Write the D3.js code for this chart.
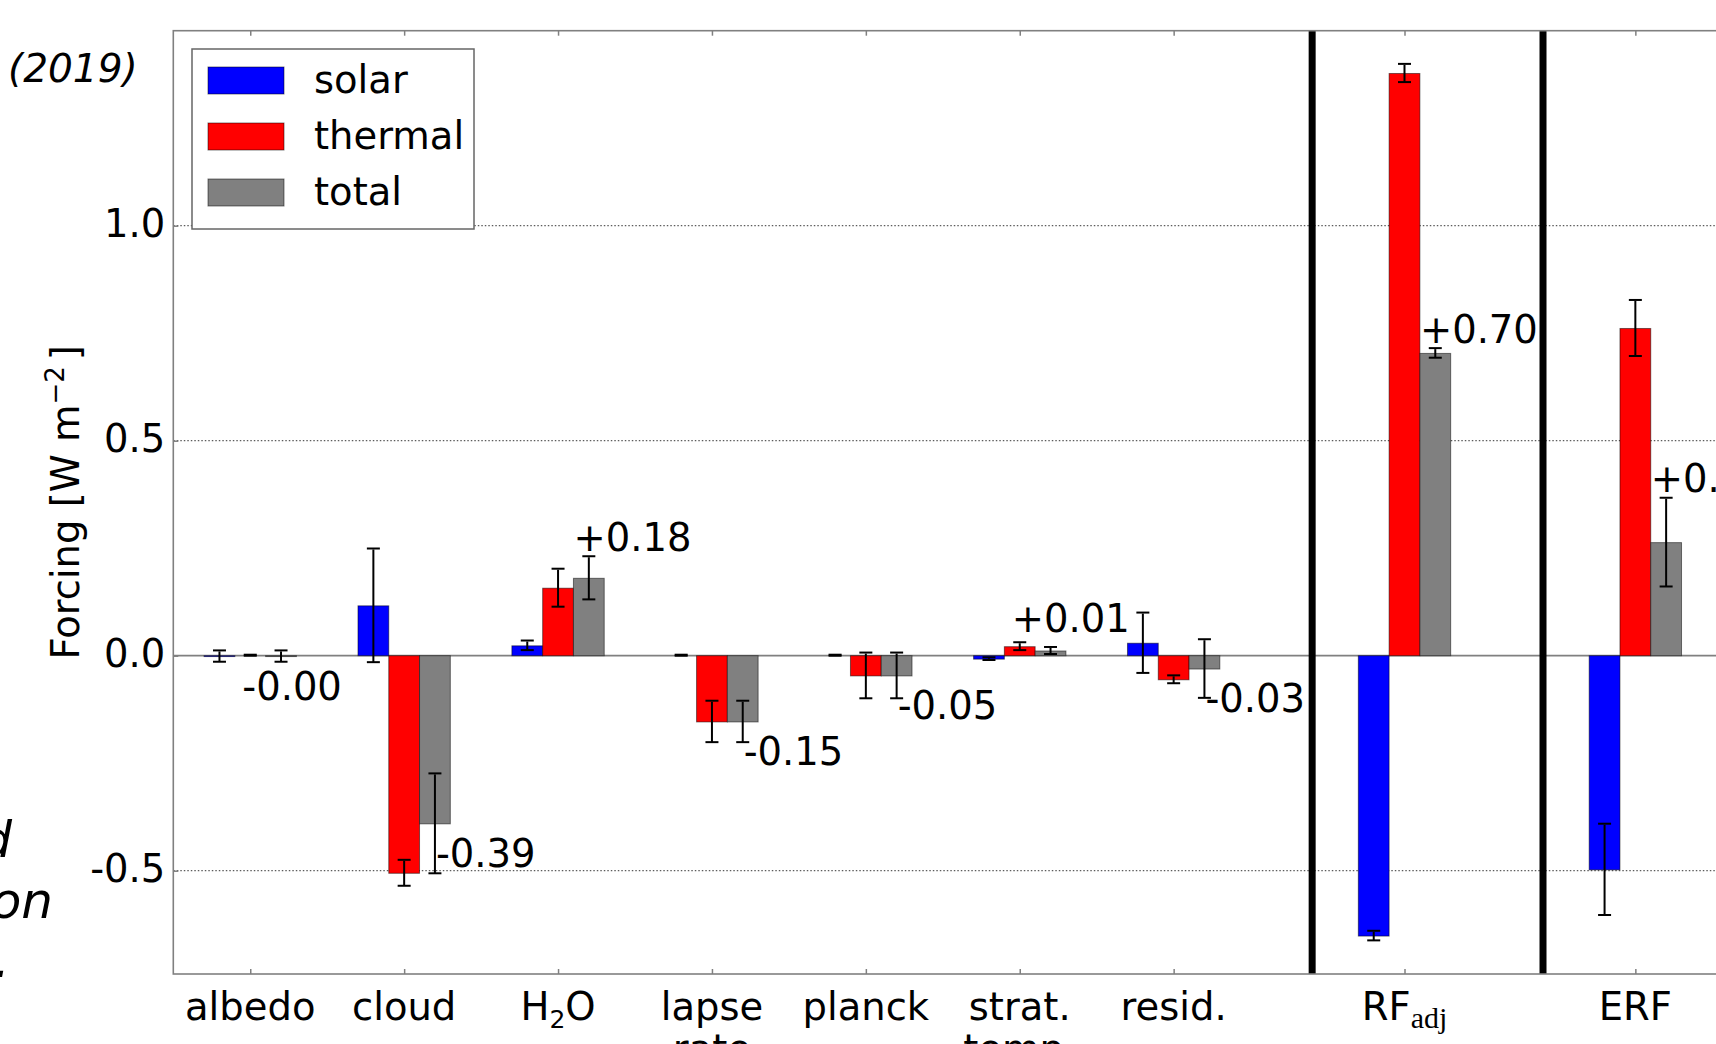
<!DOCTYPE html>
<html>
<head>
<meta charset="utf-8">
<script src="https://cdn.jsdelivr.net/npm/d3@7"></script>
<style>
  html, body { margin: 0; padding: 0; background: #ffffff; }
  svg { display: block; }
  text { font-family: "DejaVu Sans", sans-serif; fill: #000; }
</style>
</head>
<body>
<div id="graph"></div>
<script>
// categories along the x axis (second line of a label after "\n")
const categories = ["albedo", "cloud", "H2O", "lapse\nrate", "planck", "strat.\ntemp.", "resid.", "RF_adj", "ERF"];
const seriesNames = ["solar", "thermal", "total"];

// forcing values in W m-2
const solar      = [-0.002, 0.116, 0.023, 0.000, 0.000, -0.008, 0.029, -0.652, -0.498];
const solarErr   = [0.012, 0.131, 0.010, 0.000, 0.000, 0.002, 0.069, 0.010, 0.105];
const thermal    = [0.000, -0.506, 0.157, -0.154, -0.047, 0.021, -0.056, 1.354, 0.761];
const thermalErr = [0.000, 0.029, 0.043, 0.047, 0.052, 0.008, 0.008, 0.020, 0.064];
const total      = [-0.002, -0.391, 0.180, -0.154, -0.047, 0.011, -0.031, 0.703, 0.263];
const totalErr   = [0.012, 0.115, 0.049, 0.047, 0.052, 0.007, 0.067, 0.010, 0.102];

const yTicks = [-0.5, 0.0, 0.5, 1.0];

function chart() {
  const width = 1716, height = 1044;
  const fs = 38.5;
  const colors = { solar: "#0000ff", thermal: "#ff0000", total: "#808080" };
  const frame = "#808080";
  const barWidth = 0.2;

  const svg = d3.select("#graph").append("svg")
    .attr("width", width).attr("height", height);

  // first seven groups are one unit apart, the two forcing groups sit 1.5 apart
  const pos = categories.map((c, i) => i < 7 ? i : 7.5 + (i - 7) * 1.5);
  const dividers = [6.9, 8.4];

  const x = d3.scaleLinear().domain([-0.5, 10]).range([173.3, 173.3 + 10.5 * 153.9]);
  const y = d3.scaleLinear().domain([-0.7402, 1.4535]).range([974, 30.7]);
  const x0 = x.range()[0], y0 = y.range()[1], y1 = y.range()[0];

  // dotted grid
  svg.append("g").selectAll("line")
    .data(yTicks.filter(d => d !== 0))
    .join("line")
    .attr("x1", x0).attr("x2", x(10))
    .attr("y1", d => y(d)).attr("y2", d => y(d))
    .attr("stroke", "#333").attr("stroke-width", 1)
    .attr("stroke-dasharray", "1.5,2");

  // zero line
  svg.append("line")
    .attr("x1", x0).attr("x2", x(10))
    .attr("y1", y(0)).attr("y2", y(0))
    .attr("stroke", frame).attr("stroke-width", 1.8);

  const series = [
    { name: "solar", vals: solar, errs: solarErr, off: -barWidth },
    { name: "thermal", vals: thermal, errs: thermalErr, off: 0 },
    { name: "total", vals: total, errs: totalErr, off: barWidth }
  ];

  const bw = x(barWidth) - x(0);
  series.forEach(s => {
    const rows = s.vals.map((v, i) => ({ v: v, e: s.errs[i], p: pos[i] + s.off }));
    svg.append("g").selectAll("rect")
      .data(rows.filter(d => d.v !== 0))
      .join("rect")
      .attr("x", d => x(d.p) - bw / 2)
      .attr("width", bw)
      .attr("y", d => y(Math.max(0, d.v)))
      .attr("height", d => Math.abs(y(d.v) - y(0)))
      .attr("fill", colors[s.name])
      .attr("stroke", "rgba(0,0,0,0.5)")
      .attr("stroke-width", 1);

    const eb = svg.append("g").selectAll("g")
      .data(rows)
      .join("g")
      .attr("stroke", "#000").attr("stroke-width", 2);
    eb.append("line")
      .attr("x1", d => x(d.p)).attr("x2", d => x(d.p))
      .attr("y1", d => y(d.v + d.e)).attr("y2", d => y(d.v - d.e));
    eb.append("line")
      .attr("x1", d => x(d.p) - 6.5).attr("x2", d => x(d.p) + 6.5)
      .attr("y1", d => y(d.v + d.e) - 1).attr("y2", d => y(d.v + d.e) - 1);
    eb.append("line")
      .attr("x1", d => x(d.p) - 6.5).attr("x2", d => x(d.p) + 6.5)
      .attr("y1", d => y(d.v - d.e)).attr("y2", d => y(d.v - d.e));
  });

  // thick separators between the feedback terms and the forcings
  svg.append("g").selectAll("line")
    .data(dividers)
    .join("line")
    .attr("x1", d => x(d)).attr("x2", d => x(d))
    .attr("y1", y0).attr("y2", y1)
    .attr("stroke", "#000").attr("stroke-width", 7);

  // frame
  svg.append("rect")
    .attr("x", x0).attr("y", y0)
    .attr("width", x(10) - x0).attr("height", y1 - y0)
    .attr("fill", "none").attr("stroke", frame).attr("stroke-width", 1.6);

  // inward ticks bottom / top
  const xb = svg.append("g").attr("transform", `translate(0,${y1})`)
    .call(d3.axisBottom(x).tickValues(pos).tickSize(-5).tickFormat(""));
  const xt = svg.append("g").attr("transform", `translate(0,${y0})`)
    .call(d3.axisTop(x).tickValues(pos).tickSize(-5).tickFormat(""));
  [xb, xt].forEach(g => {
    g.select(".domain").remove();
    g.selectAll(".tick line").attr("stroke", frame).attr("stroke-width", 1.5);
  });

  // x tick labels
  const xl = svg.append("g").selectAll("text")
    .data(categories)
    .join("text")
    .attr("text-anchor", "middle")
    .attr("font-size", fs)
    .attr("x", (d, i) => x(pos[i]))
    .attr("y", 1020);
  xl.each(function(d) {
    const t = d3.select(this);
    if (d === "RF_adj") {
      t.append("tspan").text("RF");
      t.append("tspan").text("adj")
        .style("font-family", "'Liberation Serif', serif")
        .attr("font-size", 30).attr("dy", 8);
    } else if (d === "H2O") {
      t.append("tspan").text("H");
      t.append("tspan").text("2").attr("font-size", 25).attr("dy", 8);
      t.append("tspan").text("O").attr("dy", -8);
    } else {
      d.split("\n").forEach((line, k) => {
        t.append("tspan").text(line).attr("x", t.attr("x")).attr("dy", k ? 42 : 0);
      });
    }
  });

  // y axis
  const ya = svg.append("g").attr("transform", `translate(${x0},0)`)
    .call(d3.axisLeft(y).tickValues(yTicks).tickSize(-5).tickPadding(8)
      .tickFormat(d => d.toFixed(1)));
  ya.select(".domain").remove();
  ya.selectAll(".tick line").attr("stroke", frame).attr("stroke-width", 1.5);
  ya.selectAll(".tick text")
    .attr("font-size", fs)
    .attr("font-family", "DejaVu Sans")
    .attr("dy", "0.28em");

  const yl = svg.append("text")
    .attr("transform", `translate(79,${(y0 + y1) / 2}) rotate(-90)`)
    .attr("text-anchor", "middle")
    .attr("font-size", fs);
  yl.append("tspan").text("Forcing [W m");
  yl.append("tspan").text("\u22122").attr("font-size", 26).attr("dy", -15);
  yl.append("tspan").text("]").attr("dy", 15).attr("dx", 6);

  // value labels for the totals
  const fmt = v => (v < 0 ? "-" : "+") + Math.abs(v).toFixed(2);
  svg.append("g").selectAll("text")
    .data(total.map((v, i) => ({ v: v, e: totalErr[i], p: pos[i] })))
    .join("text")
    .attr("font-size", fs)
    .attr("x", d => {
      if (Math.abs(d.v) < 0.02) return x(d.p) - 8;
      if (d.v >= 0) return x(d.p + barWidth / 2);
      return x(d.p + barWidth) + 1;
    })
    .attr("y", d => d.v >= 0
      ? y(Math.max(d.v + d.e, 0.04) + 0.015)
      : y(d.v - 0.035) + fs * 0.729)
    .text(d => fmt(d.v));

  // legend
  const lg = svg.append("g");
  lg.append("rect")
    .attr("x", 192).attr("y", 49).attr("width", 282).attr("height", 180)
    .attr("fill", "#fff").attr("stroke", "#666").attr("stroke-width", 1.5);
  seriesNames.forEach((n, i) => {
    lg.append("rect")
      .attr("x", 208).attr("y", 67 + i * 56).attr("width", 76).attr("height", 27)
      .attr("fill", colors[n]).attr("stroke", "rgba(0,0,0,0.5)").attr("stroke-width", 1);
    lg.append("text")
      .attr("x", 314).attr("y", 93 + i * 56)
      .attr("font-size", fs).text(n);
  });

  // cropped surrounding text of the page
  const side = svg.append("g")
    .style("font-family", "'Open Sans', 'Noto Sans', sans-serif")
    .style("font-style", "italic");
  side.append("text").attr("x", 8).attr("y", 82).attr("font-size", 39).text("(2019)");
  side.append("text").attr("x", 12).attr("y", 857).attr("font-size", 50)
    .attr("text-anchor", "end").text("d");
  side.append("text").attr("x", 53).attr("y", 918).attr("font-size", 50)
    .attr("text-anchor", "end").text("on");
  side.append("text").attr("x", 10).attr("y", 977).attr("font-size", 50)
    .attr("text-anchor", "end").text(".");
}

chart();
</script>
</body>
</html>
